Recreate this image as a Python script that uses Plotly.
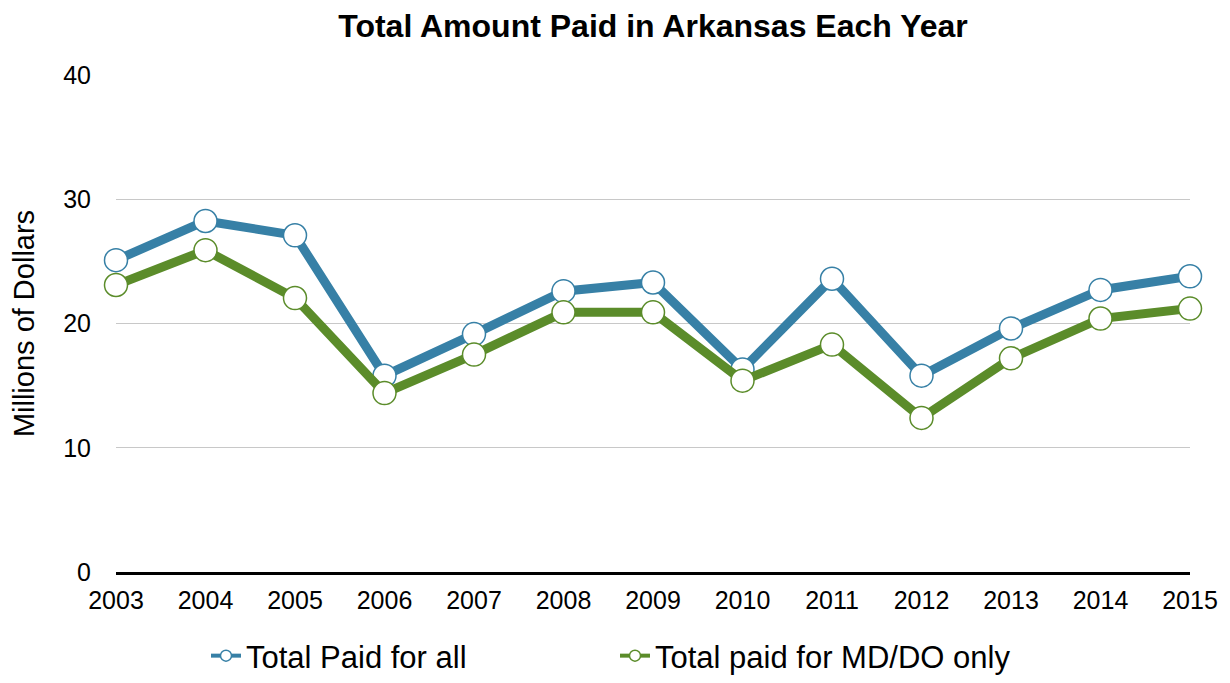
import plotly.graph_objects as go

years = [2003, 2004, 2005, 2006, 2007, 2008, 2009, 2010, 2011, 2012, 2013, 2014, 2015]
total_all = [25.1, 28.25, 27.1, 15.8, 19.15, 22.6, 23.3, 16.3, 23.6, 15.8, 19.6, 22.7, 23.8]
total_mddo = [23.1, 25.9, 22.05, 14.4, 17.5, 20.9, 20.9, 15.4, 18.3, 12.4, 17.2, 20.4, 21.2]
series_names = ["Total Paid for all", "Total paid for MD/DO only"]
colors = ["#3780A6", "#5B8C2A"]

fig = go.Figure()
for name, vals, col in zip(series_names, [total_all, total_mddo], colors):
    fig.add_trace(go.Scatter(
        x=years, y=vals, name=name, mode="lines+markers", showlegend=False,
        line=dict(color=col, width=9),
        marker=dict(size=23, color="white", line=dict(color=col, width=1.5)),
        cliponaxis=False,
    ))
# legend-only entries with small symbols
for name, col in zip(series_names, colors):
    fig.add_trace(go.Scatter(
        x=[None], y=[None], name=name, mode="lines+markers",
        line=dict(color=col, width=4),
        marker=dict(size=11, color="white", line=dict(color=col, width=1.5)),
    ))

font = "Liberation Sans, Arial, Helvetica, sans-serif"
fig.update_layout(
    width=1230, height=683,
    margin=dict(l=116, r=38, t=75, b=111),
    paper_bgcolor="white", plot_bgcolor="white",
    font=dict(family=font, color="black", size=25),
    title=dict(text="<b>Total Amount Paid in Arkansas Each Year</b>", x=0.5, xref="paper",
               xanchor="center", y=0.962, yanchor="middle", font=dict(size=32, family=font)),
    xaxis=dict(range=[2003, 2015], tickvals=years, ticktext=[str(y) for y in years],
               showgrid=False, showline=True, linecolor="black", linewidth=3,
               ticks="", tickfont=dict(size=25), zeroline=False, ticklabelstandoff=4),
    yaxis=dict(range=[0, 40], tickvals=[0, 10, 20, 30, 40], showgrid=True,
               gridcolor="#c8c8c8", gridwidth=1, zeroline=False, ticks="",
               ticklabelstandoff=24, tickfont=dict(size=25),
               title=dict(text="Millions of Dollars", font=dict(size=29), standoff=20)),
    legend=dict(orientation="h", x=0.5, xref="container", xanchor="center",
                y=0.0, yref="container", yanchor="bottom",
                font=dict(size=31), entrywidth=364, itemwidth=30),
    showlegend=True,
)
fig.write_html("out.html")
